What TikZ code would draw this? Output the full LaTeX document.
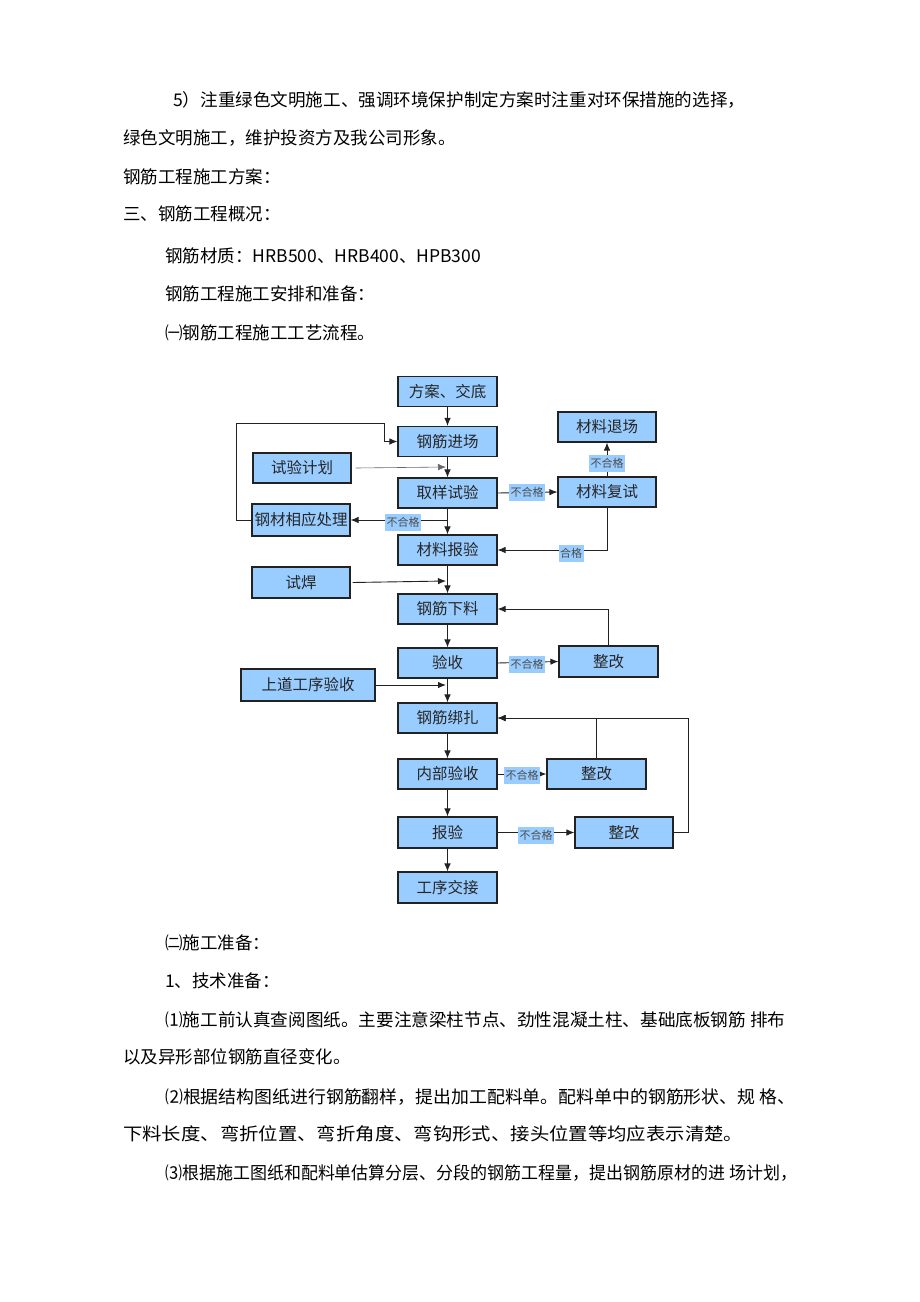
\documentclass[tikz,border=0pt]{standalone}
\usepackage{fontspec}
\usepackage{graphicx}
\setmainfont{Noto Sans CJK SC}
\newfontfamily\cjk{Noto Sans CJK SC}
\usetikzlibrary{arrows.meta}
\definecolor{boxblue}{HTML}{99CCFF}
\definecolor{lblblue}{HTML}{99CCFF}
\definecolor{linecol}{HTML}{222222}
\newcommand\fitline[2]{\resizebox{#1}{\height}{#2}}
\tikzset{
  stepbox/.style={draw=linecol, line width=1.1pt, fill=boxblue, minimum width=99pt, minimum height=30pt, inner sep=0pt, font=\cjk\fontsize{15.5}{15.5}\selectfont, text=black!85},
  conn/.style={draw=linecol, line width=0.9pt},
  arr/.style={conn, -{Latex[length=8pt,width=6.5pt]}},
  lbl/.style={fill=lblblue, inner sep=1.5pt, font=\cjk\fontsize{11}{11}\selectfont, text=black!70, minimum height=17pt},
  body/.style={anchor=west, inner sep=0pt, font=\cjk\fontsize{17.5}{17.5}\selectfont, text=black}
}
\begin{document}
\begin{tikzpicture}[x=1pt,y=-1pt]
\useasboundingbox (0,0) rectangle (920,1302);
\fill[white] (0,0) rectangle (920,1302);

% body text top
\node[body] (t1) at (173,100) {\fitline{572pt}{5）注重绿色文明施工、强调环境保护制定方案时注重对环保措施的选择，}};
\node[body] (t2) at (123,138) {绿色文明施工，维护投资方及我公司形象。};
\node[body] (t3) at (123,177) {钢筋工程施工方案：};
\node[body] (t4) at (123,214) {三、钢筋工程概况：};
\node[body] (t5) at (165,256) {钢筋材质：HRB500、HRB400、HPB300};
\node[body] (t6) at (165,294) {钢筋工程施工安排和准备：};
\node[body] (t7) at (165,333) {㈠钢筋工程施工工艺流程。};

% boxes
\node[stepbox] (A) at (447.5,391.5) {方案、交底};
\node[stepbox] (B) at (447.5,441.5) {钢筋进场};
\node[stepbox, minimum width=98pt] (C) at (607,427) {材料退场};
\node[stepbox, minimum width=98pt] (D) at (302,468) {试验计划};
\node[stepbox] (E) at (447.5,493) {取样试验};
\node[stepbox, minimum width=98pt] (F) at (607,492) {材料复试};
\node[stepbox, minimum width=98pt, minimum height=32pt] (G) at (301,520) {钢材相应处理};
\node[stepbox] (H) at (447.5,550) {材料报验};
\node[stepbox, minimum width=98pt, minimum height=31pt] (I) at (301,582.5) {试焊};
\node[stepbox] (J) at (447.5,609) {钢筋下料};
\node[stepbox] (K) at (447.5,663) {验收};
\node[stepbox, minimum height=31pt] (L) at (608.5,661.5) {整改};
\node[stepbox, minimum width=134pt, minimum height=32pt] (M) at (308,685) {上道工序验收};
\node[stepbox] (N) at (447.5,718) {钢筋绑扎};
\node[stepbox] (O) at (447.5,774) {内部验收};
\node[stepbox] (P) at (596.5,774) {整改};
\node[stepbox, minimum height=31pt] (Q) at (447.5,832.5) {报验};
\node[stepbox, minimum width=98pt, minimum height=31pt] (R) at (624,832.5) {整改};
\node[stepbox, minimum height=31pt] (S) at (447.5,887.5) {工序交接};

% helper coordinates
\coordinate (g1) at (236,423);
\coordinate (g2) at (384,423);
\coordinate (cd) at (446,467);
\coordinate (ci) at (446,581);
\coordinate (cm) at (446,685);
\coordinate (r1) at (688,718);

% connectors
\draw[arr] (A) -- (B);
\draw[arr] (B) -- (E);
\draw[arr, line width=0.6pt, draw=black!60] ([xshift=4pt]D.east) -- (cd);
\draw[arr] (E.east) -- (F.west);
\draw[arr] (F) -- (C);
\draw[arr] (F.south) |- (H.east);
\draw[arr] (E.south) |- (G.east);
\draw[arr] (E) -- (H);
\draw[arr] (G.west) -| (g1) -- (g2) |- (B.west);
\draw[arr] (H) -- (J);
\draw[arr] ([xshift=2pt]I.east) -- (ci);
\draw[arr] (J) -- (K);
\draw[arr] (K.east) -- (L.west);
\draw[arr] (L.north) |- (J.east);
\draw[arr] (M.east) -- (cm);
\draw[arr] (K) -- (N);
\draw[arr] (N) -- (O);
\draw[arr] (O.east) -- (P.west);
\draw[arr] (P.north) |- (N.east);
\draw[arr] (O) -- (Q);
\draw[arr] (Q.east) -- (R.west);
\draw[arr] (R.east) -| (r1) -- (N.east);
\draw[arr] (Q) -- (S);

% labels
\node[lbl] (l1) at (527,492) {不合格};
\node[lbl] (l2) at (607,463) {不合格};
\node[lbl] (l3) at (571,553) {合格};
\node[lbl] (l4) at (403,522) {不合格};
\node[lbl] (l5) at (527,664) {不合格};
\node[lbl] (l6) at (522,775) {不合格};
\node[lbl] (l7) at (536,835) {不合格};

% body text bottom
\node[body] (b1) at (165,943) {㈡施工准备：};
\node[body] (b2) at (165,981) {1、技术准备：};
\node[body] (b3) at (165,1020) {\fitline{620pt}{⑴施工前认真查阅图纸。主要注意梁柱节点、劲性混凝土柱、基础底板钢筋 排布}};
\node[body] (b4) at (123,1057) {以及异形部位钢筋直径变化。};
\node[body] (b5) at (165,1097) {\fitline{630pt}{⑵根据结构图纸进行钢筋翻样，提出加工配料单。配料单中的钢筋形状、规 格、}};
\node[body] (b6) at (123,1134) {\fitline{620pt}{下料长度、弯折位置、弯折角度、弯钩形式、接头位置等均应表示清楚。}};
\node[body] (b7) at (165,1173) {\fitline{632pt}{⑶根据施工图纸和配料单估算分层、分段的钢筋工程量，提出钢筋原材的进 场计划，}};
\end{tikzpicture}
\end{document}
